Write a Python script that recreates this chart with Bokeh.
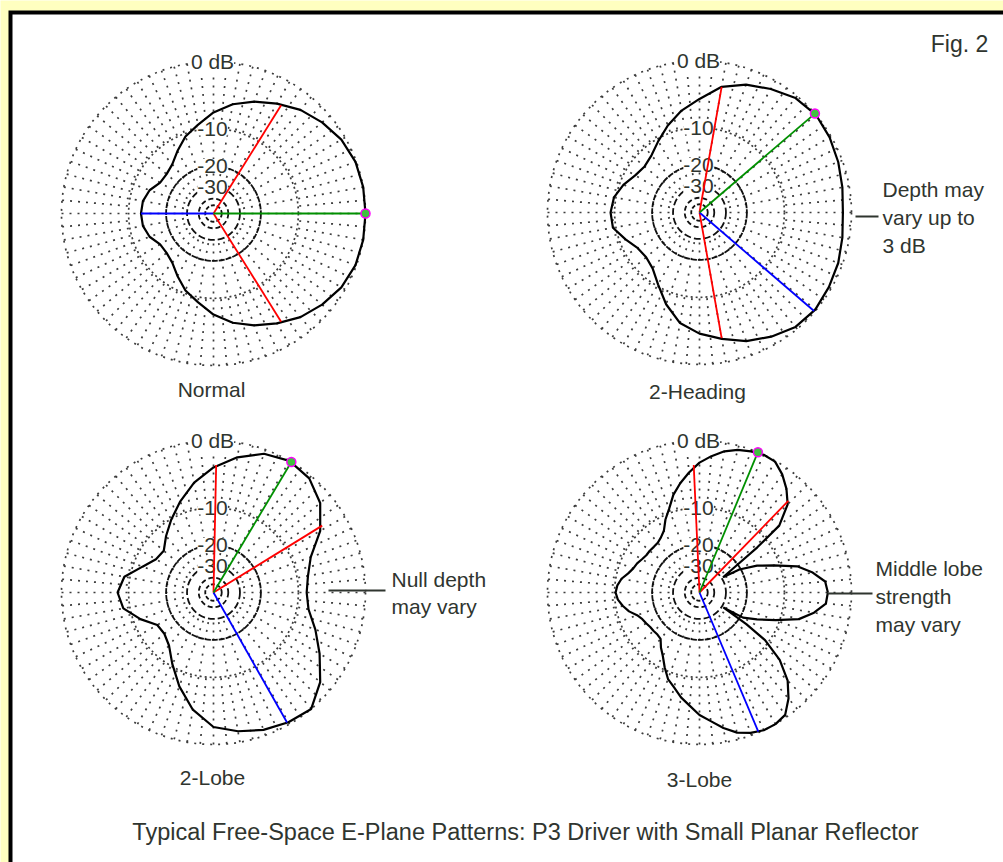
import numpy as np
from bokeh.plotting import figure
from bokeh.models import Range1d
from bokeh.core.properties import value
from bokeh.embed import file_html
from bokeh.resources import INLINE

# ---------------- data ----------------
plot_titles = ["Normal", "2-Heading", "2-Lobe", "3-Lobe"]
ring_levels_db = [0, -10, -20, -30, -40, -50]
ring_label_text = ["0 dB", "-10", "-20", "-30"]
ring_label_db = [0, -10, -20, -30]

normal_angle = list(range(0, 360, 10))
normal_db = [0.0, 0.0, -0.1, -0.5, -1.2, -2.0, -3.1, -4.2, -5.4, -7.0, -9.0, -10.6,
             -12.8, -14.8, -15.6, -15.5, -13.8, -12.9, -12.7, -12.9, -13.8, -15.5,
             -15.6, -14.8, -12.8, -10.6, -9.0, -7.0, -5.4, -4.2, -3.1, -2.0, -1.2,
             -0.5, -0.1, 0.0]

heading_angle = list(range(0, 360, 10))
heading_db = [-1.0, -0.8, -0.5, -0.2, 0.0, -0.3, -1.1, -1.9, -3.0, -5.0, -6.6, -8.5,
              -10.5, -12.2, -12.9, -12.3, -10.8, -9.6, -9.2, -9.4, -11.3, -13.0,
              -13.4, -12.6, -10.4, -7.6, -5.2, -3.9, -2.9, -1.8, -1.0, -0.3, -0.1,
              -0.3, -0.5, -0.8]

lobe2_angle = list(range(0, 360, 10))
lobe2_db = [-8.4, -7.9, -6.6, -3.6, -1.5, -0.35, 0.0, -0.5, -1.75, -3.35, -5.3, -7.7,
            -10.1, -12.4, -14.6, -14.2, -12.0, -8.9, -7.9, -8.7, -11.5, -14.6, -14.8,
            -13.5, -10.5, -7.2, -4.2, -2.1, -1.3, -0.67, -0.25, 0.0, -1.5, -3.7,
            -5.8, -7.8]

lobe3_angle = [0, 5, 10, 15, 20, 25, 30, 33, 36, 38, 40, 45, 50, 55, 60, 65, 70, 75,
               80, 85, 90, 95, 100, 105, 110, 115, 120, 125, 130, 135, 140, 145, 150,
               155, 160, 165, 170, 175, 180, 185, 190, 195, 200, 205, 210, 215, 220,
               225, 230, 235, 240, 245, 250, 255, 260, 265, 270, 275, 280, 285, 290,
               295, 300, 305, 310, 315, 320, 324, 326, 328, 330, 335, 340, 345, 350, 355]
lobe3_db = [-2.9, -3.2, -4.8, -7.0, -11.2, -15.0, -20.5, -29.0, -21.0, -12.5, -6.5,
            -3.4, -2.0, -0.9, -0.1, 0.0, -0.2, -0.5, -1.0, -1.8, -2.7, -4.0, -5.4,
            -7.0, -9.2, -10.9, -13.0, -14.0, -14.6, -14.7, -14.6, -14.6, -14.2, -13.6,
            -13.2, -12.4, -11.2, -10.5, -10.2, -10.6, -11.5, -12.6, -14.2, -15.1,
            -15.5, -15.9, -16.0, -16.1, -15.8, -14.0, -12.5, -10.5, -8.6, -7.5, -6.1,
            -5.0, -3.7, -2.8, -1.7, -0.8, -0.3, 0.0, 0.0, -0.3, -1.6, -3.4, -6.4,
            -10.8, -17.0, -29.0, -19.0, -15.0, -10.8, -6.7, -4.6, -3.1]

pattern_angles = [normal_angle, heading_angle, lobe2_angle, lobe3_angle]
pattern_dbs = [normal_db, heading_db, lobe2_db, lobe3_db]

max_dir_deg = [0.0, 40.6, 59.2, 67.4]
half_power_dir_deg = [[58.0, -58.0], [80.0, -80.0], [88.8, 31.6], [92.6, 45.9]]
blue_dir_deg = [180.0, -40.7, -60.5, -67.1]
blue_db = [-12.7, -0.1, -0.3, -0.1]

depth_note = ["Depth may", "vary up to", "3 dB"]
null_note = ["Null depth", "may vary"]
middle_note = ["Middle lobe", "strength", "may vary"]
fig_label = "Fig. 2"
main_title = "Typical Free-Space E-Plane Patterns: P3 Driver with Small Planar Reflector"

# ---------------- layout / style ----------------
W, H = 1003, 862
centers = [(213, 213), (699, 212), (213, 592), (699, 592)]
title_pos = [(211, 389), (697, 391), (212, 777), (699, 779)]
R = 152.0
FONT = value("Liberation Sans")
TXT = "#2f352f"
GRID = "#3c3c3c"


def rad(db):
    return R * 0.89 ** (-np.asarray(db, dtype=float) / 2.0)


def pol(cx, cy, ang_deg, r):
    a = np.radians(np.asarray(ang_deg, dtype=float))
    return cx + r * np.cos(a), cy - r * np.sin(a)


p = figure(width=W, height=H, x_range=Range1d(0, W), y_range=Range1d(H, 0),
           output_backend="svg", toolbar_location=None, min_border=0,
           x_axis_type=None, y_axis_type=None)
p.grid.visible = False
p.outline_line_color = None
p.background_fill_color = "#FFFFC0"
p.border_fill_color = "#FFFFC0"

# frame
p.quad(left=[8], right=[W + 10], top=[10], bottom=[H + 10], fill_color="black", line_color=None)
p.quad(left=[12], right=[W + 10], top=[14], bottom=[H + 10], fill_color="white", line_color=None)

for i, (cx, cy) in enumerate(centers):
    # spokes
    xs, ys = [], []
    for a in range(0, 360, 5):
        inner = rad(-30) if a % 10 == 0 else rad(-10)
        x0, y0 = pol(cx, cy, a, R)
        x1, y1 = pol(cx, cy, a, inner)
        xs.append([float(x0), float(x1)]); ys.append([float(y0), float(y1)])
    p.multi_line(xs, ys, line_color=GRID, line_width=1.7, line_dash="2 6")
    # rings
    ring_style = {0: ("2 6", GRID, 1.7), -10: ("2 3", GRID, 1.7),
                  -20: ("6 1", "#111111", 1.8), -30: ("7 3", "#111111", 1.8),
                  -40: ("5 3", "#111111", 1.8), -50: ("4 2", "#111111", 1.8)}
    for db in ring_levels_db:
        dash, col, lw = ring_style[db]
        p.circle(x=[cx], y=[cy], radius=float(rad(db)), fill_color=None,
                 line_color=col, line_width=lw, line_dash=dash)
    # ring labels
    lx, ly = [], []
    for db in ring_label_db:
        lx.append(cx - 1)
        ly.append(cy - float(rad(db)))
    p.text(x=lx, y=ly, text=ring_label_text, text_align="center", text_baseline="middle",
           text_font=FONT, text_font_size="21px", text_color=TXT,
           background_fill_color="white")
    # pattern
    ang = list(pattern_angles[i]) + [pattern_angles[i][0] + 360]
    dbs = list(pattern_dbs[i]) + [pattern_dbs[i][0]]
    px, py = pol(cx, cy, ang, rad(dbs))
    p.line(px, py, line_color="black", line_width=2.2)
    # red -3 dB lines
    for a in half_power_dir_deg[i]:
        ex, ey = pol(cx, cy, a, rad(-3))
        p.line([cx, float(ex)], [cy, float(ey)], line_color="#ff0000", line_width=1.8)
    # blue line
    ex, ey = pol(cx, cy, blue_dir_deg[i], rad(blue_db[i]))
    p.line([cx, float(ex)], [cy, float(ey)], line_color="#0000ff", line_width=1.8)
    # green max line
    gx, gy = pol(cx, cy, max_dir_deg[i], R)
    p.line([cx, float(gx)], [cy, float(gy)], line_color="#009000", line_width=1.8)
    p.scatter([float(gx)], [float(gy)], marker="circle", size=9, line_color="#ff00ff",
              line_width=1.5, fill_color="#40c040")
    # subplot title
    tx, ty = title_pos[i]
    p.text(x=[tx], y=[ty], text=[plot_titles[i]], text_align="center", text_baseline="middle",
           text_font=FONT, text_font_size="21px", text_color=TXT)


def note(lines, x, y0, dy):
    p.text(x=[x] * len(lines), y=[y0 + k * dy for k in range(len(lines))], text=lines,
           text_align="left", text_baseline="middle", text_font=FONT,
           text_font_size="21px", text_color=TXT)


note(depth_note, 882, 189, 28)
p.line([855, 878], [216, 216], line_color=TXT, line_width=2)
note(null_note, 391, 579, 27)
p.line([328, 385], [590, 590], line_color=TXT, line_width=2)
note(middle_note, 875, 568, 28)
p.line([827, 872], [593, 593], line_color=TXT, line_width=2)

p.text(x=[959], y=[43], text=[fig_label], text_align="center", text_baseline="middle",
       text_font=FONT, text_font_size="23px", text_color=TXT)
p.text(x=[525], y=[831], text=[main_title], text_align="center", text_baseline="middle",
       text_font=FONT, text_font_size="23.5px", text_color=TXT)

open("out.html", "w").write(file_html(p, INLINE))
